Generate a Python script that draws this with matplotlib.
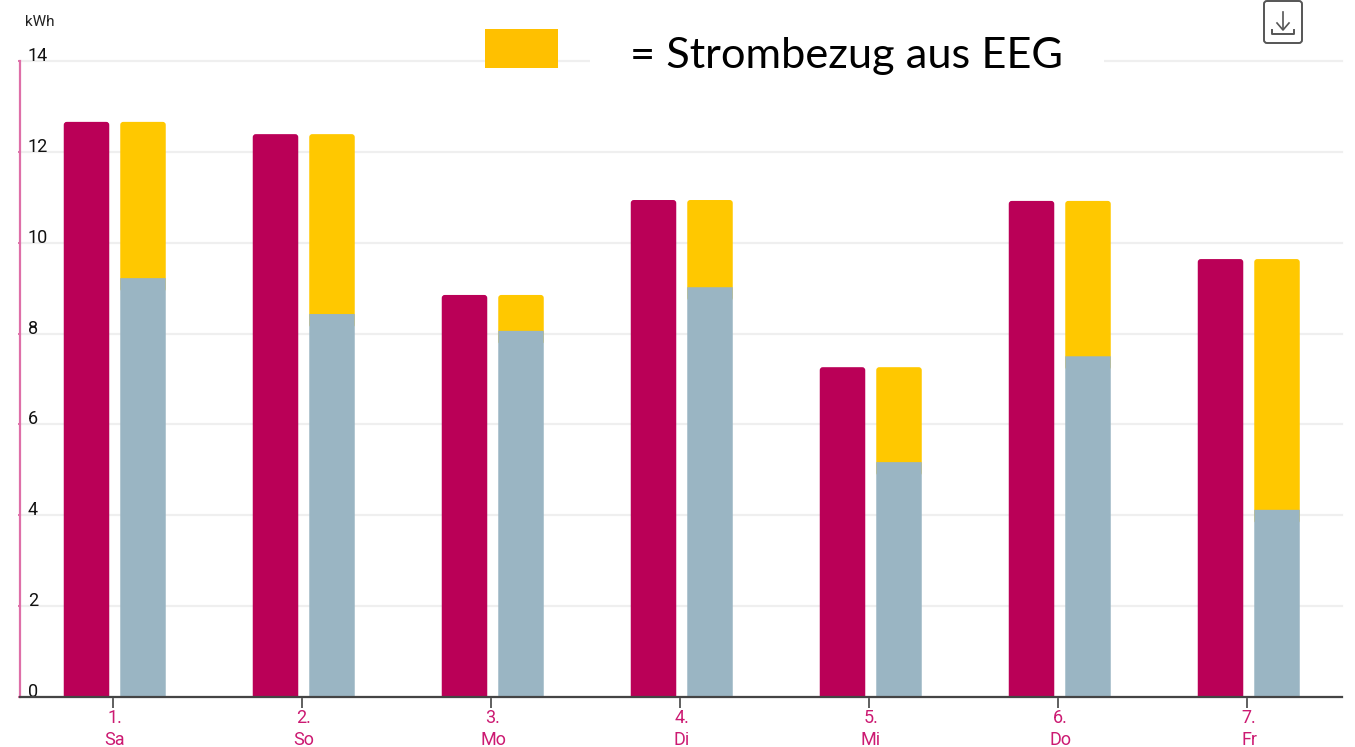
import matplotlib
matplotlib.use('Agg')
import matplotlib.pyplot as plt
from matplotlib.patches import FancyBboxPatch, Rectangle
from matplotlib.transforms import ScaledTranslation

days = ['1.\nSa', '2.\nSo', '3.\nMo', '4.\nDi', '5.\nMi', '6.\nDo', '7.\nFr']
# total consumption (magenta) and the part covered by own supply (blue)
verbrauch = [12.66, 12.39, 8.85, 10.94, 7.26, 10.92, 9.64]
eigen = [9.22, 8.43, 8.06, 9.02, 5.17, 7.50, 4.12]
y_ticks = [0, 2, 4, 6, 8, 10, 12, 14]

MAGENTA = '#BA0057'
GOLD = '#FFC800'
BLUE = '#9AB5C3'
LABEL = '#CC1A72'

W, H = 1355, 747
plt.rcParams['font.family'] = ['Roboto', 'DejaVu Sans']

fig = plt.figure(figsize=(W / 100, H / 100), dpi=100)
ax = fig.add_axes([19.5 / W, (H - 697) / H, 1322.5 / W, 636 / H])
ax.set_xlim(-0.4947, 6.5026)
ax.set_ylim(0, 14)

bar_w = 45.5 / 189
left_off = -26.5 / 189
right_off = 30 / 189


def round_bar(x, bottom, top, color, z=3):
    # rounded box, 3px radius, its lower end hidden by the axes edge or the next bar
    rx = 3 / 189
    ry = 3 / 45.43
    ax.add_patch(FancyBboxPatch((x - bar_w / 2, bottom), bar_w, top - bottom,
                                boxstyle=f'round,pad=0,rounding_size={rx}',
                                mutation_aspect=ry / rx, fc=color, ec='none', zorder=z))


xs = list(range(len(days)))
for x, v, e in zip(xs, verbrauch, eigen):
    round_bar(x + left_off, -0.3, v, MAGENTA)
    round_bar(x + right_off, e - 0.3, v, GOLD)
    b = ax.bar(x + right_off, e, bar_w, color=BLUE, zorder=4)
    b[0].set_snap(False)

ax.set_yticks(y_ticks)
ax.set_xticks(xs)
ax.set_xticklabels(days, color=LABEL, fontsize=13, linespacing=1.3)
ax.grid(axis='y', color='#EFEFEF', lw=1.6, zorder=0, clip_on=False)
ax.grid(axis='x', visible=False)
ax.set_axisbelow(True)

ax.tick_params(axis='x', length=8, width=1.2, color='#444444', pad=0.5)
ax.tick_params(axis='y', length=1.5, width=1.2, color='#D9609F', pad=-7.5,
               labelsize=13, labelcolor='#111111')
for lab in ax.get_yticklabels():
    lab.set_ha('left')
    lab.set_va('baseline')
# day labels sit a little right of their ticks in the original
shift = ScaledTranslation(2 / 100, 0, fig.dpi_scale_trans)
for lab in ax.get_xticklabels():
    lab.set_transform(lab.get_transform() + shift)

for s in ['top', 'right']:
    ax.spines[s].set_visible(False)
ax.spines['left'].set_color('#DE6FA8')
ax.spines['left'].set_linewidth(1.6)
ax.spines['bottom'].set_color('#444444')
ax.spines['bottom'].set_linewidth(1.6)
ax.spines['bottom'].set_zorder(5)

# overlay in pixel coordinates for pasted legend and the download icon
ov = fig.add_axes([0, 0, 1, 1])
ov.set_xlim(0, W)
ov.set_ylim(H, 0)
ov.axis('off')
ov.text(25, 26, 'kWh', fontsize=11, color='#222222', va='baseline', ha='left')
ov.add_patch(Rectangle((590, 50), 514, 25, fc='white', ec='none'))
ov.add_patch(Rectangle((485, 29), 73, 39, fc='#FFC000', ec='none'))
ov.text(630, 68, '= Strombezug aus EEG', fontsize=31.2, family=['Lato', 'DejaVu Sans'],
        color='black', va='baseline', ha='left')

# download icon
ov.add_patch(FancyBboxPatch((1264, 1), 38, 42, boxstyle='round,pad=0,rounding_size=3',
                            fc='white', ec='#555555', lw=1.4))
ov.plot([1283, 1283], [12, 29], color='#555555', lw=1.2)
ov.plot([1277, 1283, 1289], [23, 30, 23], color='#555555', lw=1.2)
ov.plot([1272, 1272, 1294, 1294], [30, 34, 34, 30], color='#555555', lw=1.4)

fig.savefig('out.png', dpi=100, facecolor='white')
